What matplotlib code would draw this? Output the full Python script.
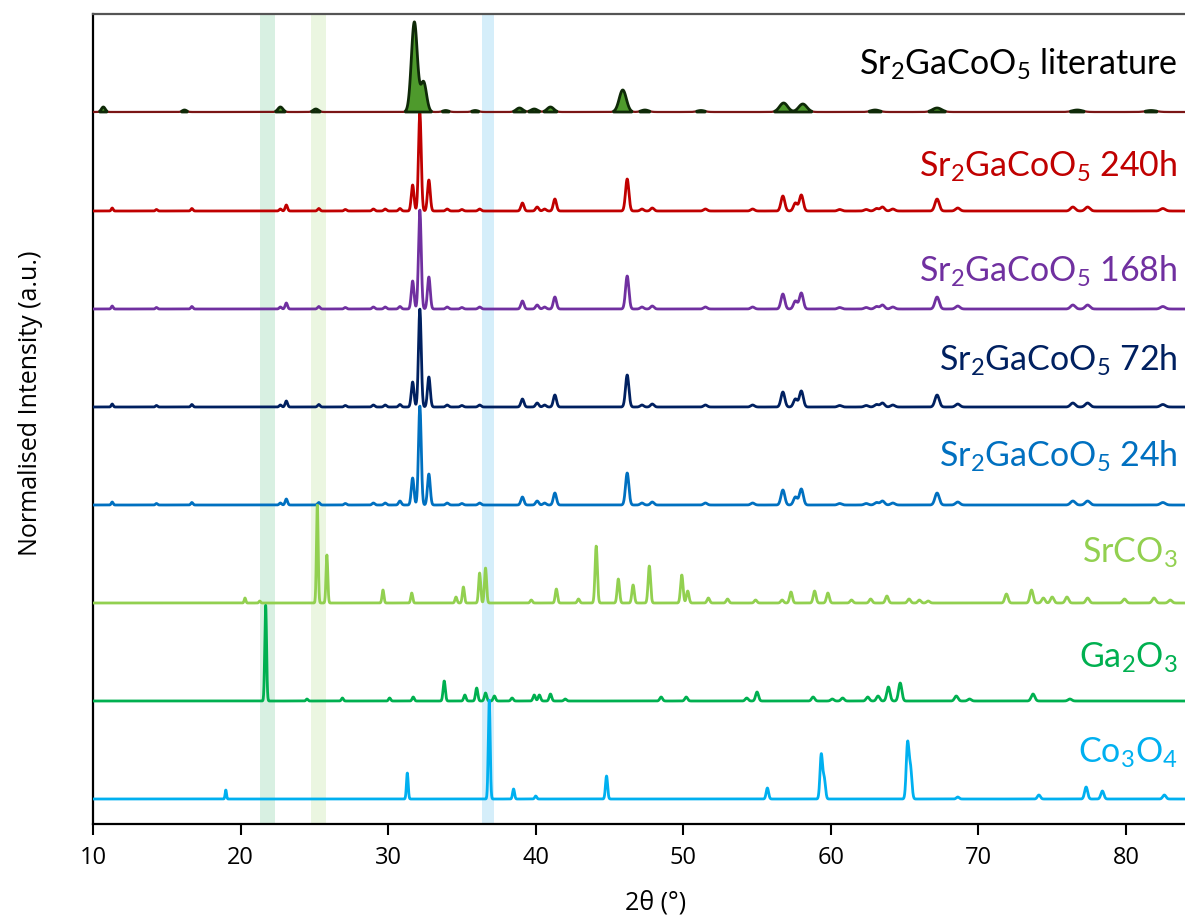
import numpy as np
import matplotlib
matplotlib.use("Agg")
import matplotlib.pyplot as plt

plt.rcParams['font.family'] = ['Lato', 'DejaVu Sans']
plt.rcParams['mathtext.fontset'] = 'custom'
plt.rcParams['mathtext.rm'] = 'Lato'
plt.rcParams['mathtext.default'] = 'regular'

# peak tables: position (2theta, deg) and height (arb. units)
lit_pos = [10.7, 16.2, 22.7, 25.1, 31.7, 31.8, 32.4, 33.9, 35.9, 38.9, 39.9, 41.0,
           45.9, 47.4, 51.2, 56.8, 58.1, 63.0, 67.2, 76.7, 81.7]
lit_h = [5, 2, 5, 3, 22, 70, 30, 1.5, 1.5, 4, 3, 5, 22, 2, 1.5, 9, 8, 2, 4, 2, 1.5]

s_pos = [11.3, 14.3, 16.7, 22.7, 23.1, 25.3, 27.1, 29.0, 29.8, 30.8, 31.66, 32.15,
         32.76, 34.0, 35.0, 36.2, 39.1, 40.1, 40.6, 41.3, 46.2, 47.2, 47.9, 51.5,
         54.7, 56.75, 57.6, 58.0, 60.6, 62.4, 63.1, 63.5, 64.2, 67.2, 68.6, 76.4,
         77.4, 82.5]
h_240 = [3, 1.5, 2.5, 2, 6, 2.5, 1.5, 2, 2, 2.5, 26, 98, 31, 2, 1.5, 2, 8, 4, 2, 12,
         32, 2, 3, 2, 2, 15, 8, 16, 1.5, 1.5, 2.5, 4, 2, 12, 3, 4, 4, 2.5]
h_168 = [3, 1.5, 2.5, 2, 6, 2.5, 1.5, 2, 2, 2.5, 28, 99, 32, 2, 1.5, 2, 8, 4, 2, 12,
         33, 2, 3, 2, 2, 15, 8, 16, 1.5, 1.5, 2.5, 4, 2, 12, 3, 4, 4, 2.5]
h_72 = [3, 1.5, 2.5, 2, 6, 2.5, 1.5, 2, 2, 2.5, 25, 98, 30, 2, 1.5, 2, 8, 4, 2, 12,
        32, 2, 3, 2, 2, 15, 8, 16, 1.5, 1.5, 2.5, 4, 2, 12, 3, 4, 4, 2.5]
h_24 = [3, 1.5, 2.5, 2, 6, 2.5, 1.5, 2, 2, 4, 27, 99, 31, 2, 1.5, 2, 8, 4, 2, 12,
        32, 2, 3, 2, 2, 15, 8, 16, 1.5, 1.5, 2.5, 4, 2, 12, 3, 4, 4, 2.5]

srco3_pos = [20.3, 21.3, 25.2, 25.85, 29.65, 31.6, 34.6, 35.1, 36.2, 36.6, 39.7, 41.4,
             42.9, 44.1, 45.6, 46.6, 47.7, 49.9, 50.3, 51.7, 53.0, 54.9, 56.7, 57.3,
             58.9, 59.8, 61.4, 62.7, 63.8, 65.3, 66.0, 66.6, 71.9, 73.6, 74.4, 75.0,
             76.0, 77.4, 79.9, 81.9, 83.0]
srco3_h = [5, 2, 98, 48, 13, 10, 6, 16, 30, 35, 3, 14, 4, 57, 24, 18, 37, 28, 12, 5,
           4, 3, 3, 11, 12, 10, 3, 4, 7, 4, 3, 2, 9, 13, 5, 6, 6, 5, 4, 5, 3]

ga2o3_pos = [21.7, 24.5, 26.9, 30.1, 31.7, 33.8, 35.2, 36.0, 36.6, 37.2, 38.4, 39.9,
             40.25, 41.0, 42.0, 48.5, 50.2, 54.3, 55.0, 58.8, 60.1, 60.8, 62.5, 63.2,
             63.9, 64.7, 68.5, 69.4, 73.7, 76.2]
ga2o3_h = [96, 2, 3, 3, 4, 20, 6, 13, 8, 5, 3, 6, 6, 7, 2, 4, 4, 3, 9, 4, 2, 3, 4, 5,
           14, 18, 5, 2, 7, 2]

co3o4_pos = [19.0, 31.3, 36.85, 38.5, 40.0, 44.8, 55.7, 59.35, 59.55, 65.2, 65.4,
             68.6, 74.1, 77.3, 78.4, 82.6]
co3o4_h = [9, 26, 99, 10, 3, 23, 11, 44, 20, 55, 30, 2, 4, 12, 8, 4]

# highlighted 2theta windows
bands = [(21.3, 22.3, '#d8f0e2'), (24.8, 25.8, '#ebf6e1'), (36.35, 37.2, '#d5eefa')]


def profile(x, pos, h, w0):
    y = np.zeros_like(x)
    for p, a in zip(pos, h):
        w = w0 * (1 + (p - 10) / 40.0)
        y += a * np.exp(-4 * np.log(2) * (x - p) ** 2 / w ** 2)
    return y


x = np.linspace(10, 84, 6000)

fig = plt.figure(figsize=(11.85, 9.19), dpi=100)
ax = fig.add_axes([93 / 1185, 1 - 824 / 919, 1 - 93 / 1185, 810 / 919])

for lo, hi, c in bands:
    ax.axvspan(lo, hi, color=c, lw=0, zorder=0)

# samples: (label, positions, heights, baseline, label_y, colour, width)
traces = [
    (r'Sr$_2$GaCoO$_5$ 240h', s_pos, h_240, 613, 647, '#c00000', 0.14),
    (r'Sr$_2$GaCoO$_5$ 168h', s_pos, h_168, 515, 542, '#7030a0', 0.14),
    (r'Sr$_2$GaCoO$_5$ 72h', s_pos, h_72, 417, 453, '#002060', 0.14),
    (r'Sr$_2$GaCoO$_5$ 24h', s_pos, h_24, 319, 357, '#0070c0', 0.14),
    (r'SrCO$_3$', srco3_pos, srco3_h, 221, 261, '#92d050', 0.1),
    (r'Ga$_2$O$_3$', ga2o3_pos, ga2o3_h, 123, 156, '#00b050', 0.11),
    (r'Co$_3$O$_4$', co3o4_pos, co3o4_h, 25, 61, '#00b0f0', 0.09),
]

for lab, pos, h, base, ly, c, w in traces:
    ax.plot(x, base + profile(x, pos, h, w), color=c, lw=2.0, zorder=3)
    ax.text(83.5, ly, lab, color=c, fontsize=24.5, ha='right', va='baseline')

# literature pattern: blocky green peaks with dark outline on a thin dark-red line
lit_base = 712
lit = profile(x, lit_pos, lit_h, 0.3)
ax.plot(x, lit_base + np.minimum(lit, 0.8), color='#7a1515', lw=1.6, zorder=4)
ax.fill_between(x, lit_base, lit_base + lit, where=lit > 0.8, color='#4e9a2c',
                edgecolor='#0f2a08', lw=2.0, zorder=5)
ax.text(83.5, 749, r'Sr$_2$GaCoO$_5$ literature', color='black', fontsize=24.5,
        ha='right', va='baseline')

ax.set_xlim(10, 84)
ax.set_ylim(0, 810)
ax.set_yticks([])
ax.set_xticks(range(10, 81, 10))
ax.tick_params(axis='x', direction='out', length=8, width=1.5, labelsize=17, pad=8)
for t in ax.get_xticklabels():
    t.set_family(['Open Sans', 'DejaVu Sans'])
ax.spines['right'].set_visible(False)
for s in ['left', 'bottom']:
    ax.spines[s].set_linewidth(1.6)
ax.spines['top'].set_linewidth(1.6)
ax.spines['top'].set_color('#555555')
ax.set_xlabel('2θ (°)', fontsize=18, family=['Open Sans', 'DejaVu Sans'])
ax.set_ylabel('Normalised Intensity (a.u.)', fontsize=18,
              family=['Open Sans', 'DejaVu Sans'])
ax.xaxis.set_label_coords(0.515, -0.082)
ax.yaxis.set_label_coords(-0.046, 0.52)

plt.savefig('out.png', dpi=100)
